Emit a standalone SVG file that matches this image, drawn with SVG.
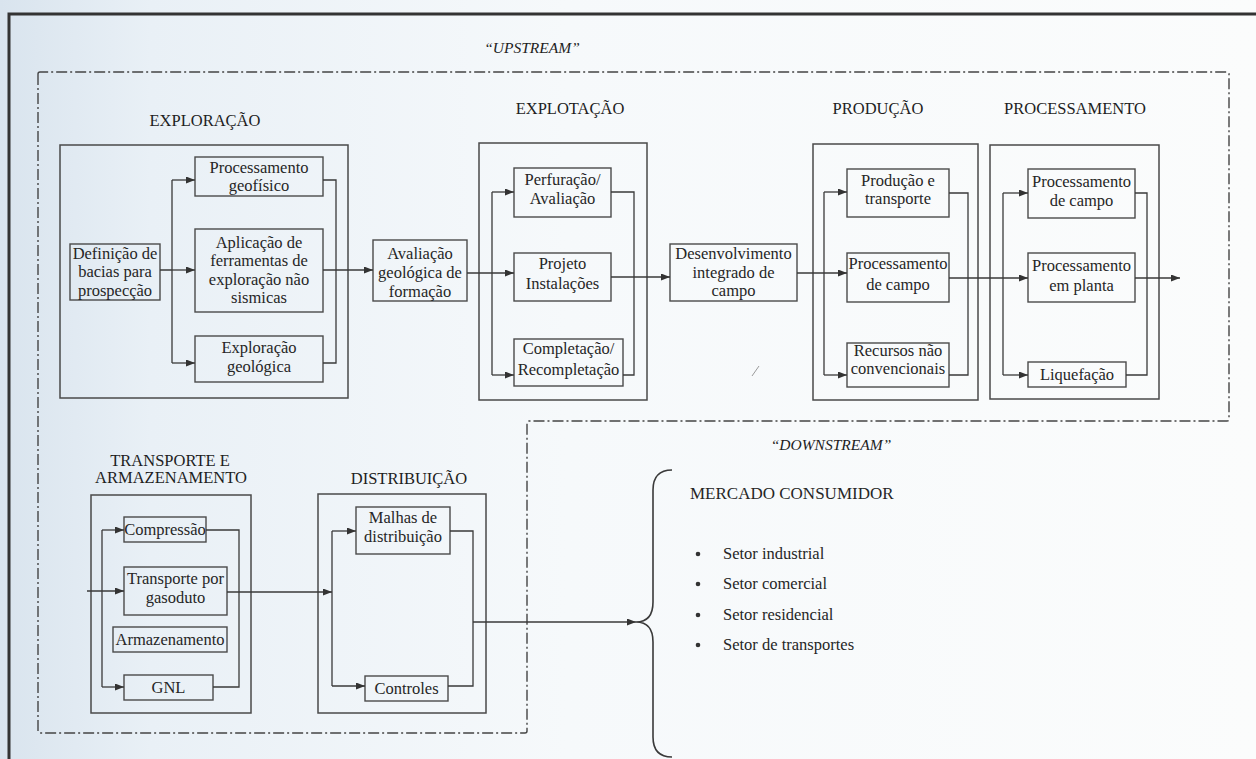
<svg xmlns="http://www.w3.org/2000/svg" width="1256" height="759" viewBox="0 0 1256 759">
<defs>
<linearGradient id="bg" x1="0" y1="0" x2="1" y2="0">
<stop offset="0" stop-color="#d9e4ee"/>
<stop offset="0.12" stop-color="#e9f0f6"/>
<stop offset="0.45" stop-color="#f6f9fb"/>
<stop offset="1" stop-color="#fbfcfc"/>
</linearGradient>
<marker id="arr" markerUnits="userSpaceOnUse" markerWidth="9" markerHeight="7" refX="9" refY="3.5" orient="auto">
<path d="M0,0 L9,3.5 L0,7 z" fill="#333"/>
</marker>
<style>
.box{fill:none;stroke:#4a4a4a;stroke-width:1.4}
.cont{fill:none;stroke:#4a4a4a;stroke-width:1.5}
.t{font-family:"Liberation Serif","Times New Roman",serif;font-size:16.5px;fill:#262626;text-anchor:middle}
.h{font-family:"Liberation Serif","Times New Roman",serif;font-size:16.5px;fill:#1e1e1e;text-anchor:middle}
.it{font-family:"Liberation Serif","Times New Roman",serif;font-size:15.5px;font-style:italic;fill:#1e1e1e;text-anchor:middle}
.li{font-family:"Liberation Serif","Times New Roman",serif;font-size:16.5px;fill:#262626}
.c{fill:none;stroke:#3a3a3a;stroke-width:1.3}
.ca{fill:none;stroke:#3a3a3a;stroke-width:1.3;marker-end:url(#arr)}
.dash{fill:none;stroke:#444;stroke-width:1.4;stroke-dasharray:11 3 2 3}
</style>
</defs>
<rect x="0" y="0" width="1256" height="759" fill="url(#bg)"/>
<g id="frame">
<path d="M9,759 L9,14 L1256,14" fill="none" stroke="#333" stroke-width="3"/>
</g>
<g id="regions">
<path class="dash" d="M38,74 Q38,72 40,72 L1227,72 Q1229,72 1229,74 L1229,419 Q1229,421 1227,421 L529,421 Q527,421 527,423 L527,731 Q527,733 525,733 L40,733 Q38,733 38,731 Z"/>
<text class="it" x="532" y="53">“UPSTREAM”</text>
<text class="it" x="831" y="450">“DOWNSTREAM”</text>
</g>
<g id="exploracao">
<rect class="cont" x="60" y="145" width="288" height="253"/>
<text class="h" x="205" y="126">EXPLORAÇÃO</text>
</g>
<g id="definicao"><rect class="box" x="70" y="244" width="90" height="56"/>
<text class="t" x="115" y="258.5">Definição de</text><text class="t" x="115" y="277">bacias para</text><text class="t" x="115" y="295.5">prospecção</text></g>
<g id="proc-geofisico"><rect class="box" x="195" y="157" width="128" height="39"/>
<text class="t" x="259" y="172.5">Processamento</text><text class="t" x="259" y="191">geofísico</text></g>
<g id="aplicacao"><rect class="box" x="195" y="229" width="128" height="83"/>
<text class="t" x="259" y="247.5">Aplicação de</text><text class="t" x="259" y="265.5">ferramentas de</text><text class="t" x="259" y="284.5">exploração não</text><text class="t" x="259" y="303">sismicas</text></g>
<g id="expl-geologica"><rect class="box" x="195" y="336" width="128" height="46"/>
<text class="t" x="259" y="352.5">Exploração</text><text class="t" x="259" y="371.5">geológica</text></g>
<g id="avaliacao"><rect class="box" x="373" y="240" width="94" height="61"/>
<text class="t" x="420" y="258.5">Avaliação</text><text class="t" x="420" y="277.5">geológica de</text><text class="t" x="420" y="296.5">formação</text></g>
<g id="explotacao">
<rect class="cont" x="479" y="143" width="168" height="257"/>
<text class="h" x="570" y="114">EXPLOTAÇÃO</text>
</g>
<g id="perfuracao"><rect class="box" x="514" y="168" width="97" height="49"/>
<text class="t" x="562.5" y="184.5">Perfuração/</text><text class="t" x="562.5" y="203.5">Avaliação</text></g>
<g id="projeto"><rect class="box" x="514" y="253" width="97" height="48"/>
<text class="t" x="562.5" y="268.5">Projeto</text><text class="t" x="562.5" y="289">Instalações</text></g>
<g id="completacao"><rect class="box" x="514" y="339" width="109" height="47"/>
<text class="t" x="568.5" y="353.5">Completação/</text><text class="t" x="568.5" y="374.5">Recompletação</text></g>
<g id="desenvolvimento"><rect class="box" x="670" y="244" width="127" height="57"/>
<text class="t" x="733.5" y="258.5">Desenvolvimento</text><text class="t" x="733.5" y="277.5">integrado de</text><text class="t" x="733.5" y="296">campo</text></g>
<g id="producao">
<rect class="cont" x="813" y="144" width="165" height="256"/>
<text class="h" x="878" y="114">PRODUÇÃO</text>
</g>
<g id="prod-transporte"><rect class="box" x="847" y="169" width="102" height="48"/>
<text class="t" x="898" y="185.5">Produção e</text><text class="t" x="898" y="203.5">transporte</text></g>
<g id="prod-proc-campo"><rect class="box" x="847" y="253" width="102" height="49"/>
<text class="t" x="898" y="268.5">Processamento</text><text class="t" x="898" y="290">de campo</text></g>
<g id="recursos"><rect class="box" x="847" y="343" width="102" height="44"/>
<text class="t" x="898" y="355.5">Recursos não</text><text class="t" x="898" y="373.5">convencionais</text></g>
<g id="processamento">
<rect class="cont" x="990" y="145" width="169" height="254"/>
<text class="h" x="1075" y="114">PROCESSAMENTO</text>
</g>
<g id="proc-campo"><rect class="box" x="1028" y="169" width="107" height="49"/>
<text class="t" x="1081.5" y="186.5">Processamento</text><text class="t" x="1081.5" y="205.5">de campo</text></g>
<g id="proc-planta"><rect class="box" x="1028" y="253" width="107" height="49"/>
<text class="t" x="1081.5" y="270.5">Processamento</text><text class="t" x="1081.5" y="290.5">em planta</text></g>
<g id="liquefacao"><rect class="box" x="1028" y="362" width="98" height="25"/>
<text class="t" x="1077" y="379.5">Liquefação</text></g>
<g id="transporte-armazenamento">
<rect class="cont" x="91" y="495" width="160" height="218"/>
<text class="h" x="170" y="466">TRANSPORTE E</text>
<text class="h" x="171" y="483">ARMAZENAMENTO</text>
</g>
<g id="compressao"><rect class="box" x="124" y="517" width="82" height="25"/>
<text class="t" x="165" y="535">Compressão</text></g>
<g id="gasoduto"><rect class="box" x="124" y="567" width="103" height="48"/>
<text class="t" x="175.5" y="583.5">Transporte por</text><text class="t" x="175.5" y="602.5">gasoduto</text></g>
<g id="armazenamento"><rect class="box" x="113" y="627" width="114" height="25"/>
<text class="t" x="170" y="645">Armazenamento</text></g>
<g id="gnl"><rect class="box" x="124" y="675" width="89" height="25"/>
<text class="t" x="168.5" y="693">GNL</text></g>
<g id="distribuicao">
<rect class="cont" x="318" y="494" width="168" height="219"/>
<text class="h" x="409" y="484">DISTRIBUIÇÃO</text>
</g>
<g id="malhas"><rect class="box" x="356" y="507" width="94" height="47"/>
<text class="t" x="403" y="522.5">Malhas de</text><text class="t" x="403" y="541.5">distribuição</text></g>
<g id="controles"><rect class="box" x="365" y="676" width="83" height="25"/>
<text class="t" x="406.5" y="694">Controles</text></g>
<g id="mercado">
<path d="M672,470 Q653,470 653,490 L653,602 Q653,622 636,622 Q653,622 653,642 L653,737 Q653,757 672,757" fill="none" stroke="#3a3a3a" stroke-width="1.6"/>
<text class="li" x="690" y="499" style="font-size:17px">MERCADO CONSUMIDOR</text>
<circle cx="698" cy="554" r="2.3" fill="#333"/><text class="li" x="723" y="559">Setor industrial</text>
<circle cx="698" cy="584" r="2.3" fill="#333"/><text class="li" x="723" y="589">Setor comercial</text>
<circle cx="698" cy="615" r="2.3" fill="#333"/><text class="li" x="723" y="620">Setor residencial</text>
<circle cx="698" cy="645" r="2.3" fill="#333"/><text class="li" x="723" y="650">Setor de transportes</text>
</g>
<g id="connectors">
<path class="c" d="M160,270 H172 M172,180 V363"/>
<path class="ca" d="M172,180 H195"/>
<path class="ca" d="M172,270 H195"/>
<path class="ca" d="M172,363 H195"/>
<path class="c" d="M323,180 H336 V363 H323"/>
<path class="ca" d="M323,270 H373"/>
<path class="c" d="M492,192 V375"/>
<path class="ca" d="M467,273 H514"/>
<path class="ca" d="M492,192 H514"/>
<path class="ca" d="M492,375 H514"/>
<path class="c" d="M611,192 H634 V375 H623"/>
<path class="ca" d="M611,277 H670"/>
<path class="c" d="M824,192 V375"/>
<path class="ca" d="M797,273 H847"/>
<path class="ca" d="M824,192 H847"/>
<path class="ca" d="M824,375 H847"/>
<path class="c" d="M949,193 H968 V375 H949"/>
<path class="ca" d="M949,278 H1028"/>
<path class="c" d="M1003,193 V375"/>
<path class="ca" d="M1003,193 H1028"/>
<path class="ca" d="M1003,375 H1028"/>
<path class="c" d="M1135,193 H1147 V375 H1126"/>
<path class="ca" d="M1135,278 H1180"/>
<path class="c" d="M102,530 V687"/>
<path class="ca" d="M87,591 H124"/>
<path class="ca" d="M102,530 H124"/>
<path class="ca" d="M102,687 H124"/>
<path class="c" d="M206,530 H239 V687 H213"/>
<path class="ca" d="M227,592 H332"/>
<path class="c" d="M332,531 V686"/>
<path class="ca" d="M332,531 H356"/>
<path class="ca" d="M332,686 H365"/>
<path class="c" d="M450,531 H473 V686 H448"/>
<path class="ca" d="M473,622 H636"/>
</g>
<path d="M752,376 L759,366" stroke="#9a9a9a" stroke-width="1"/>
</svg>
